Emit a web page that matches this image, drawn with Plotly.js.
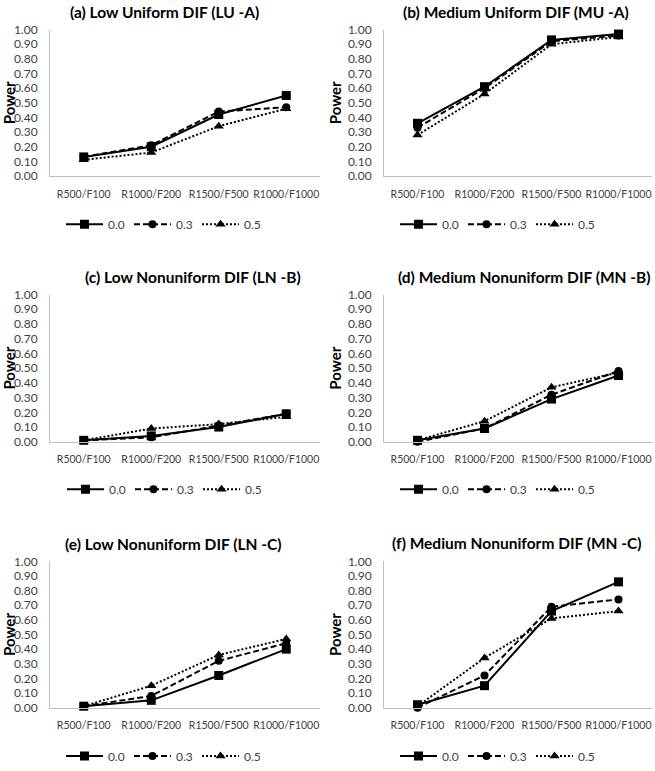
<!DOCTYPE html>
<html><head><meta charset="utf-8">
<script src="https://cdn.plot.ly/plotly-3.0.1.min.js"></script>
<style>html,body{margin:0;padding:0;background:#fff}#chart{width:655px;height:771px}</style>
</head><body><div id="chart"></div>
<script>
// ---- data ----
const categories = ['R500/F100', 'R1000/F200', 'R1500/F500', 'R1000/F1000'];
const seriesNames = ['0.0', '0.3', '0.5'];
const panelTitles = [
  '(a) Low Uniform DIF (LU -A)',
  '(b) Medium Uniform DIF (MU -A)',
  '(c) Low Nonuniform DIF (LN -B)',
  '(d) Medium Nonuniform DIF (MN -B)',
  '(e) Low Nonuniform DIF (LN -C)',
  '(f) Medium Nonuniform DIF (MN -C)'
];
const yAxisTitle = 'Power';
const yTickVals = [0, 0.1, 0.2, 0.3, 0.4, 0.5, 0.6, 0.7, 0.8, 0.9, 1.0];

const luA_00 = [0.13, 0.20, 0.42, 0.55];
const luA_03 = [0.13, 0.21, 0.44, 0.47];
const luA_05 = [0.11, 0.16, 0.34, 0.46];

const muA_00 = [0.36, 0.61, 0.93, 0.97];
const muA_03 = [0.33, 0.60, 0.92, 0.96];
const muA_05 = [0.28, 0.56, 0.90, 0.95];

const lnB_00 = [0.01, 0.04, 0.10, 0.19];
const lnB_03 = [0.01, 0.03, 0.11, 0.19];
const lnB_05 = [0.01, 0.09, 0.12, 0.17];

const mnB_00 = [0.01, 0.09, 0.29, 0.45];
const mnB_03 = [0.00, 0.09, 0.32, 0.48];
const mnB_05 = [0.01, 0.14, 0.37, 0.47];

const lnC_00 = [0.01, 0.05, 0.22, 0.40];
const lnC_03 = [0.01, 0.08, 0.32, 0.44];
const lnC_05 = [0.01, 0.15, 0.36, 0.47];

const mnC_00 = [0.02, 0.15, 0.66, 0.86];
const mnC_03 = [0.00, 0.22, 0.69, 0.74];
const mnC_05 = [0.01, 0.34, 0.61, 0.66];

// ---- styling / layout ----
const panelSeries = [
  [luA_00, luA_03, luA_05],
  [muA_00, muA_03, muA_05],
  [lnB_00, lnB_03, lnB_05],
  [mnB_00, mnB_03, mnB_05],
  [lnC_00, lnC_03, lnC_05],
  [mnC_00, mnC_03, mnC_05]
];
const W = 655, H = 771;
const FONT = 'Lato, "Open Sans", sans-serif';
const dashes = ['solid', '6px,3px', '2px,2px'];
const symbols = ['square', 'circle', 'triangle-up'];
const msizes = [9, 8, 9];
const colX = [[50, 320], [384, 652]];
const rowY = [[30, 178], [298, 447], [568, 716]];
const titlePos = [[165, 12], [516, 12], [193, 280], [524, 280], [173, 550], [517, 549]];
const legendPos = [[163, 227], [497, 227], [164, 495], [497, 495], [163, 765], [497, 765]];

const traces = [];
const layout = {
  width: W, height: H,
  margin: {l: 0, r: 0, t: 0, b: 0},
  paper_bgcolor: '#fff', plot_bgcolor: '#fff',
  font: {family: FONT, color: '#404040'},
  annotations: []
};

panelSeries.forEach((series, p) => {
  const k = p === 0 ? '' : String(p + 1);
  const col = p % 2, row = Math.floor(p / 2);
  series.forEach((vals, s) => {
    traces.push({
      type: 'scatter', mode: 'lines+markers',
      x: categories, y: vals, name: seriesNames[s],
      xaxis: 'x' + k, yaxis: 'y' + k, legend: 'legend' + k,
      line: {color: '#000', width: 2, dash: dashes[s]},
      marker: {symbol: symbols[s], size: msizes[s], color: '#000'},
      cliponaxis: false,
      hoverinfo: 'skip'
    });
  });
  layout['xaxis' + k] = {
    domain: [colX[col][0] / W, colX[col][1] / W], anchor: 'y' + k,
    type: 'category', range: [-0.5, 3.5],
    showline: true, linecolor: '#bfbfbf', linewidth: 1,
    showgrid: false, zeroline: false, ticks: '', tickangle: 0,
    tickfont: {family: FONT, size: 10.5, color: '#404040'},
    ticklabelstandoff: 8, fixedrange: true
  };
  layout['yaxis' + k] = {
    domain: [1 - rowY[row][1] / H, 1 - rowY[row][0] / H], anchor: 'x' + k,
    range: [0, 1], tickvals: yTickVals, tickformat: '.2f',
    showline: true, linecolor: '#bfbfbf', linewidth: 1,
    showgrid: false, zeroline: false, ticks: '',
    tickfont: {family: FONT, size: 12, color: '#404040'},
    ticklabelstandoff: 9, fixedrange: true,
    title: {text: yAxisTitle, standoff: 2, font: {family: FONT, size: 15, color: '#000', weight: 700}}
  };
  layout['legend' + k] = {
    orientation: 'h', x: legendPos[p][0] / W, y: 1 - legendPos[p][1] / H,
    xanchor: 'center', yanchor: 'middle', bgcolor: 'rgba(0,0,0,0)',
    font: {family: FONT, size: 12, color: '#404040'},
    itemwidth: 37, entrywidth: 16,
    itemclick: false, itemdoubleclick: false
  };
  layout.annotations.push({
    text: panelTitles[p], xref: 'paper', yref: 'paper',
    x: titlePos[p][0] / W, y: 1 - titlePos[p][1] / H,
    xanchor: 'center', yanchor: 'middle', showarrow: false,
    font: {family: FONT, size: 15.5, color: '#000', weight: 700}
  });
});

Plotly.newPlot('chart', traces, layout, {displayModeBar: false, staticPlot: true});
</script>
</body></html>
